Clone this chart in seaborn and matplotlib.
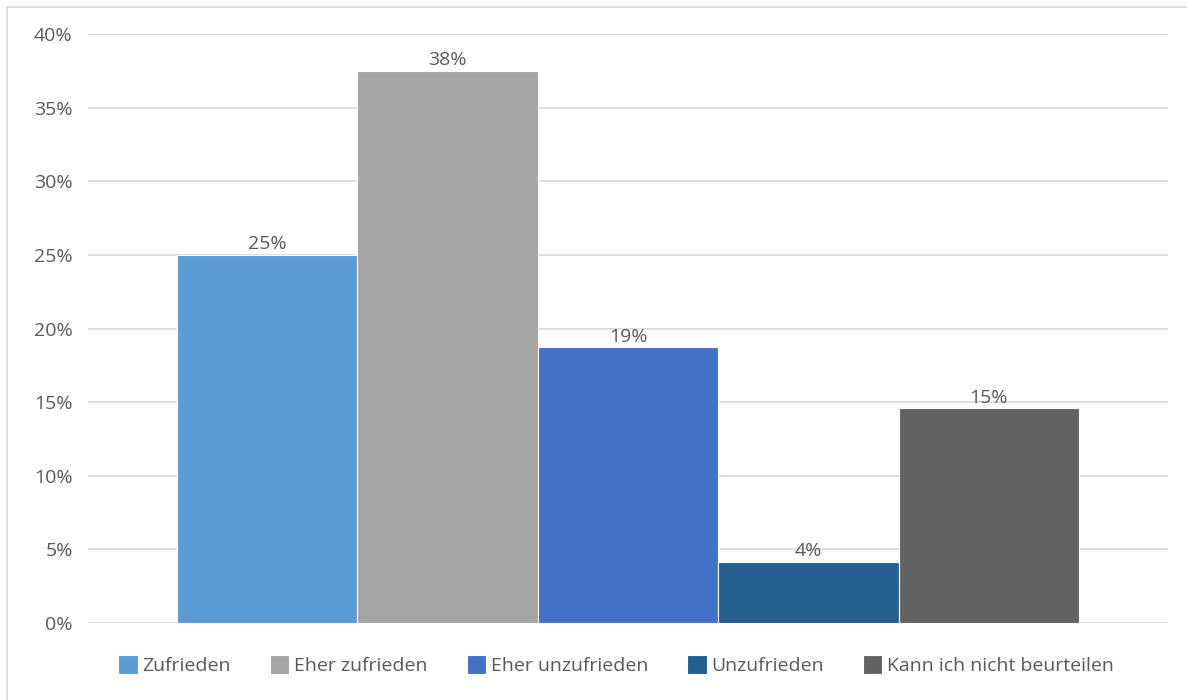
import matplotlib
matplotlib.use("Agg")
import matplotlib.pyplot as plt
from matplotlib.patches import Rectangle
from matplotlib.ticker import FuncFormatter
import seaborn as sns
import pandas as pd

# Survey answers (share of respondents, %)
categories = ["Zufrieden", "Eher zufrieden", "Eher unzufrieden",
              "Unzufrieden", "Kann ich nicht beurteilen"]
values = [25.0, 37.5, 18.75, 4.17, 14.58]
colors = ["#5B9BD5", "#A5A5A5", "#4472C4", "#255E91", "#636363"]
y_ticks = [0, 5, 10, 15, 20, 25, 30, 35, 40]

sns.set_theme(style="white")
plt.rcParams["font.family"] = ["Open Sans", "DejaVu Sans"]
text_color = "#595959"
fs = 14

df = pd.DataFrame({"gruppe": [""] * len(categories),
                   "antwort": categories,
                   "anteil": values})

fig = plt.figure(figsize=(11.87, 7.0), dpi=100)
ax = fig.add_axes([88 / 1187, 77 / 700, 1080 / 1187, 589 / 700])

sns.barplot(data=df, x="gruppe", y="anteil", hue="antwort",
            hue_order=categories, palette=colors, width=0.835,
            dodge=True, saturation=1, errorbar=None,
            edgecolor="white", linewidth=0.8, ax=ax, zorder=3)

ax.set_xlim(-0.5, 0.5)
ax.set_ylim(0, 40)
ax.set_yticks(y_ticks)
ax.yaxis.set_major_formatter(FuncFormatter(lambda v, _: f"{v:.0f}%"))
ax.set_xticks([])
ax.set_xlabel("")
ax.set_ylabel("")
ax.grid(axis="y", color="#D9D9D9", linewidth=1.2, zorder=0)
for s in ax.spines.values():
    s.set_visible(False)
ax.tick_params(axis="y", length=0, pad=11, labelsize=fs, labelcolor=text_color)

for container in ax.containers:
    ax.bar_label(container, labels=[f"{v:.0f}%" for v in container.datavalues],
                 padding=1, fontsize=fs, color=text_color)

leg = ax.legend(loc="upper center", bbox_to_anchor=(0.489, -0.025), ncol=5,
                frameon=False, fontsize=fs, handlelength=1.0, handleheight=1.1,
                handletextpad=0.25, columnspacing=2.0, labelcolor=text_color)

# chart frame
fig.patches.append(Rectangle((7 / 1187, -0.1), 1.2, 1.1 - 7 / 700,
                             transform=fig.transFigure, fill=False,
                             edgecolor="#D9D9D9", linewidth=1.2))

fig.savefig("out.png", dpi=100)
